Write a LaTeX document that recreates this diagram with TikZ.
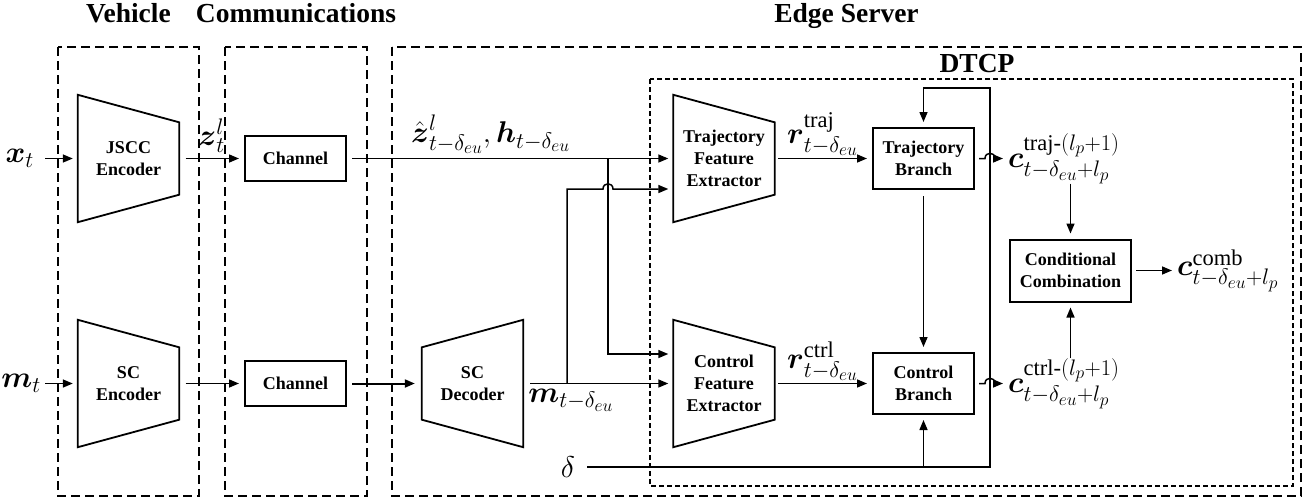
\RequirePackage{fix-cm}
\documentclass[tikz,border=0pt]{standalone}
\usepackage{amsmath}
\usepackage{fontspec}
\setmainfont{Liberation Serif}
\usetikzlibrary{arrows.meta,calc,positioning}
\DeclareMathSizes{30}{30}{22.5}{17.5}

\begin{document}
\begin{tikzpicture}[x=1pt, y=-1pt,
    every node/.style={inner sep=0pt},
    head/.style={font=\fontsize{27.5}{32}\selectfont\bfseries, anchor=base},
    blk/.style={draw, line width=2pt, minimum width=101pt, align=center,
        font=\fontsize{18}{22}\selectfont\bfseries},
    trap/.style={minimum width=101pt, minimum height=127pt, align=center,
        font=\fontsize{18}{22}\selectfont\bfseries},
    lab/.style={font=\fontsize{30}{34}\selectfont},
    arr/.style={line width=1.5pt, -{Triangle[length=10pt,width=8pt]}, shorten >=5pt},
    frame/.style={dash pattern=on 9pt off 5pt, line width=1.5pt},
    inner frame/.style={dash pattern=on 5pt off 3pt, line width=1.1pt}]
    \useasboundingbox (0,0) rectangle (1310,499);

    % Dashed frames
    \draw[frame] (58,47) rectangle (199,496);
    \draw[frame] (225,47) rectangle (367,496);
    \draw[frame] (392,47) rectangle (1301,496);
    \draw[inner frame] (650,79) rectangle (1293,486);

    % Headings
    \node[head] (vehicle) at (128.5,22) {Vehicle};
    \node[head] (comm) at (296,22) {Communications};
    \node[head] (edge) at (846.5,22) {Edge Server};
    \node[head] (dtcp) at (977,72) {DTCP};

    % Encoders, decoder and feature extractors
    \node[trap] (jscc) at (128.5,158.5) {JSCC\\Encoder};
    \node[trap] (scenc) at (128.5,383.5) {SC\\Encoder};
    \node[trap] (scdec) at (472.5,383.5) {SC\\Decoder};
    \node[trap] (trajfe) at (724,158.5) {Trajectory\\Feature\\Extractor};
    \node[trap] (ctrlfe) at (724,383.5) {Control\\Feature\\Extractor};
    \foreach \n in {jscc,scenc,trajfe,ctrlfe}
        \draw[line width=1.8pt] (\n.north west) -- ([yshift=-27.5pt]\n.north east)
            -- ([yshift=27.5pt]\n.south east) -- (\n.south west) -- cycle;
    \draw[line width=1.8pt] (scdec.north east) -- ([yshift=-27.5pt]scdec.north west)
        -- ([yshift=27.5pt]scdec.south west) -- (scdec.south east) -- cycle;

    % Blocks
    \node[blk, minimum height=45pt] (ch1) at (295.5,158.5) {Channel};
    \node[blk, minimum height=45pt] (ch2) at (295.5,383.5) {Channel};
    \node[blk, minimum height=61pt] (trajbr) at (923.5,158.5) {Trajectory\\Branch};
    \node[blk, minimum height=61pt] (ctrlbr) at (923.5,383.5) {Control\\Branch};
    \node[blk, minimum width=121pt, minimum height=62pt] (comb) at (1070.5,270.5) {Conditional\\Combination};

    % Inputs and outputs
    \node[lab, anchor=east] (xt) at (34,158.5) {$\boldsymbol{x}_t$};
    \node[lab, anchor=east] (mt) at (41,383.5) {$\boldsymbol{m}_t$};
    \node[lab] (delta) at (568,467) {$\delta$};
    \node[lab, anchor=west] (ctraj) at (1008,158.5) {$\boldsymbol{c}^{\text{traj-}(l_p+1)}_{t-\delta_{eu}+l_p}$};
    \node[lab, anchor=west] (cctrl) at (1008,383.5) {$\boldsymbol{c}^{\text{ctrl-}(l_p+1)}_{t-\delta_{eu}+l_p}$};
    \node[lab, anchor=west] (ccomb) at (1177,270.5) {$\boldsymbol{c}^{\text{comb}}_{t-\delta_{eu}+l_p}$};

    % Vehicle and channel
    \draw[arr, shorten <=11pt] (xt) -- (jscc);
    \draw[arr, shorten <=4pt] (mt) -- (scenc);
    \draw[arr, shorten <=6.5pt] (jscc) -- node[lab, above=5pt] (zt) {$\boldsymbol{z}_t^l$} (ch1);
    \draw[arr, shorten <=6.5pt] (scenc) -- (ch2);
    \draw[arr, shorten <=5pt] (ch1) -- node[lab, pos=0.44, above=4pt] (zhat)
        {$\hat{\boldsymbol{z}}^l_{t-\delta_{eu}},\boldsymbol{h}_{t-\delta_{eu}}$} (trajfe);
    \draw[arr, line width=2pt, shorten <=5pt, shorten >=7pt] (ch2) -- (scdec);
    \draw[arr, shorten <=7pt] (scdec) -- node[lab, pos=0.03, anchor=north west, yshift=-5pt] (mdec)
        {$\boldsymbol{m}_{t-\delta_{eu}}$} (ctrlfe);

    % Cross feeds into the feature extractors
    \coordinate (msplit) at (567,383.5);
    \coordinate (zsplit) at (608,158.5);
    \coordinate (trajin) at ([yshift=-30.5pt]trajfe.west);
    \coordinate (ctrlin) at ([yshift=29.5pt]ctrlfe.west);
    \draw[arr] (msplit) |- ($(zsplit |- trajin)+(-5,0)$)
        .. controls +(0,-7) and +(0,-7) .. ($(zsplit |- trajin)+(5,0)$) -- (trajin);
    \draw[arr] (zsplit) |- (ctrlin);

    % Features into branches
    \draw[arr, shorten <=3.5pt] (trajfe) -- node[lab, pos=0.12, anchor=south west, yshift=2pt] (rtraj)
        {$\boldsymbol{r}^{\text{traj}}_{t-\delta_{eu}}$} (trajbr);
    \draw[arr, shorten <=3.5pt] (ctrlfe) -- node[lab, pos=0.12, anchor=south west, yshift=2pt] (rctrl)
        {$\boldsymbol{r}^{\text{ctrl}}_{t-\delta_{eu}}$} (ctrlbr);
    \draw[arr, shorten <=6pt] (trajbr) -- (ctrlbr);

    % Delay feedback
    \coordinate (fbtop) at (990,88);
    \draw[arr, shorten <=12pt] (delta) -- (delta -| fbtop) -- (fbtop) -| (trajbr.north);
    \draw[arr] (delta -| ctrlbr) -- (ctrlbr);

    % Branch outputs and combination
    \draw[arr, shorten <=4pt] (trajbr) -- ($(trajbr -| fbtop)+(-5,0)$)
        .. controls +(0,-7) and +(0,-7) .. ($(trajbr -| fbtop)+(5,0)$) -- (ctraj);
    \draw[arr, shorten <=4pt] (ctrlbr) -- ($(ctrlbr -| fbtop)+(-5,0)$)
        .. controls +(0,-7) and +(0,-7) .. ($(ctrlbr -| fbtop)+(5,0)$) -- (cctrl);
    \draw[arr] (ctraj.south -| comb) -- (comb);
    \draw[arr] (cctrl.north -| comb) -- (comb);
    \draw[arr, shorten <=4pt] (comb) -- (ccomb);
\end{tikzpicture}
\end{document}
